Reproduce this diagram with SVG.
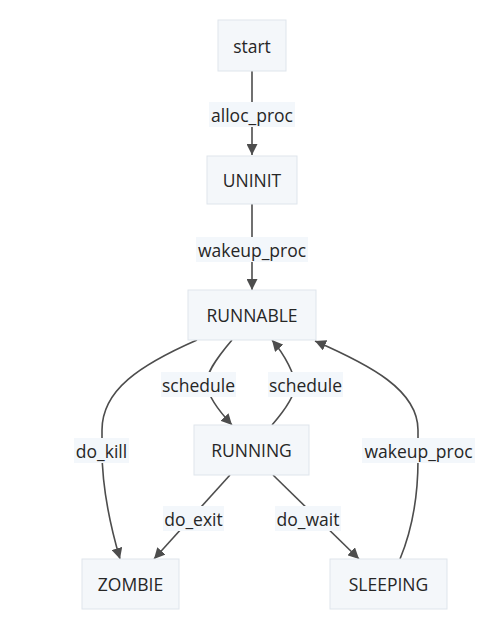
<svg xmlns="http://www.w3.org/2000/svg" width="496" height="634" viewBox="0 0 496 634">
<defs>
<marker id="arr" viewBox="0 0 10 10" refX="10" refY="5" markerWidth="11" markerHeight="11" markerUnits="userSpaceOnUse" orient="auto">
<path d="M0,0 L10,5 L0,10 z" fill="#4d4d4d"/>
</marker>
<style>
.node rect{fill:#f4f7fa;stroke:#dfe5ec;stroke-width:1}
.node text{font-family:"Open Sans","Noto Sans",sans-serif;font-size:17.5px;fill:#262626;text-anchor:middle;dominant-baseline:central}
.edge{fill:none;stroke:#4d4d4d;stroke-width:1.6;marker-end:url(#arr)}
.lbl rect{fill:#f3f7fb}
.lbl text{font-family:"Open Sans","Noto Sans",sans-serif;font-size:17.5px;fill:#262626;text-anchor:middle;dominant-baseline:central}
</style>
</defs>
<rect width="496" height="634" fill="#ffffff"/>
<g id="connectors">
<path class="edge" d="M252,71 L252,155"/>
<path class="edge" d="M252,204 L252,290"/>
<path class="edge" d="M197,340 C140,365 102,390 102,430 L102,450 C102,490 110,525 120,559"/>
<path class="edge" d="M232,340 C215,360 205,375 207,385 C208,395 218,410 232,425"/>
<path class="edge" d="M272,425 C285,410 295,395 295,385 C295,375 285,355 272,340"/>
<path class="edge" d="M400,559 C412,530 418,500 418,460 L418,430 C418,390 370,365 315,341"/>
<path class="edge" d="M230,475 L154,559"/>
<path class="edge" d="M273,475 L359,559"/>
<g class="lbl"><rect x="209" y="102" width="86" height="25"/><text x="252" y="114.5">alloc_proc</text></g>
<g class="lbl"><rect x="196" y="237" width="112" height="25"/><text x="252" y="249.5">wakeup_proc</text></g>
<g class="lbl"><rect x="161" y="372" width="75" height="25"/><text x="198.5" y="384.5">schedule</text></g>
<g class="lbl"><rect x="268" y="372" width="75" height="25"/><text x="305.5" y="384.5">schedule</text></g>
<g class="lbl"><rect x="74" y="438" width="55" height="25"/><text x="101.5" y="450.5">do_kill</text></g>
<g class="lbl"><rect x="362" y="438" width="113" height="25"/><text x="418.5" y="450.5">wakeup_proc</text></g>
<g class="lbl"><rect x="163" y="506" width="61" height="25"/><text x="193.5" y="518.5">do_exit</text></g>
<g class="lbl"><rect x="275" y="506" width="66" height="25"/><text x="308" y="518.5">do_wait</text></g>
</g>
<g id="start" class="node"><rect x="218" y="20" width="68" height="51"/><text x="252" y="45.5">start</text></g>
<g id="UNINIT" class="node"><rect x="207" y="156" width="90" height="48"/><text x="252" y="180">UNINIT</text></g>
<g id="RUNNABLE" class="node"><rect x="188" y="290" width="128" height="50"/><text x="252" y="315">RUNNABLE</text></g>
<g id="RUNNING" class="node"><rect x="194" y="425" width="115" height="50"/><text x="251.5" y="450">RUNNING</text></g>
<g id="ZOMBIE" class="node"><rect x="82" y="559" width="97" height="50"/><text x="130.5" y="584">ZOMBIE</text></g>
<g id="SLEEPING" class="node"><rect x="330" y="559" width="117" height="50"/><text x="388.5" y="584">SLEEPING</text></g>
</svg>
